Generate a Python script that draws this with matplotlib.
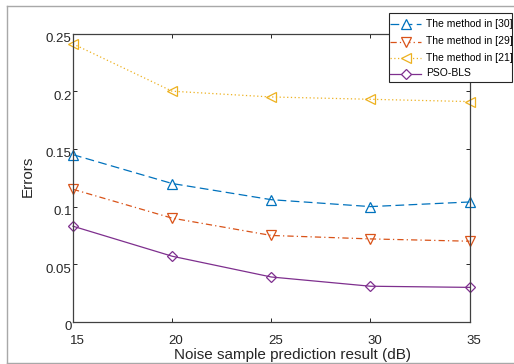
import matplotlib
matplotlib.use("Agg")
import matplotlib.pyplot as plt
from matplotlib.lines import Line2D
from matplotlib.patches import Rectangle
from matplotlib.transforms import ScaledTranslation

plt.rcParams['font.family'] = ['Liberation Sans', 'DejaVu Sans']

# Data
snr_db = [15, 20, 25, 30, 35]
method_30 = [0.145, 0.120, 0.106, 0.100, 0.104]
method_29 = [0.115, 0.090, 0.075, 0.072, 0.070]
method_21 = [0.241, 0.200, 0.195, 0.193, 0.191]
pso_bls = [0.083, 0.057, 0.039, 0.031, 0.030]
series_names = ["The method in [30]", "The method in [29]", "The method in [21]", "PSO-BLS"]
y_ticks = [0, 0.05, 0.1, 0.15, 0.2, 0.25]
y_tick_labels = ["0", "0.05", "0.1", "0.15", "0.2", "0.25"]

W, H = 514, 364
fig = plt.figure(figsize=(W / 100, H / 100), dpi=100)
fig.patch.set_facecolor("white")


def fx(x):
    return x / W


def fy(y):
    return 1 - y / H


left, right, top, bottom = 73, 469.5, 33.5, 322
ax = fig.add_axes([fx(left), fy(bottom), (right - left) / W, (bottom - top) / H])

styles = [
    dict(color="#0072BD", marker="^", dashes=(7, 3.5)),
    dict(color="#D95319", marker="v", dashes=(5, 2.5, 1, 2.5)),
    dict(color="#EDB120", marker="<", dashes=(1, 2)),
    dict(color="#7E2F8E", marker="D", dashes=()),
]
msizes = [6.5, 6.5, 6.5, 5]
series = [method_30, method_29, method_21, pso_bls]

for vals, st, ms in zip(series, styles, msizes):
    ln, = ax.plot(snr_db, vals, color=st["color"], marker=st["marker"], markersize=ms,
                  markerfacecolor="none", markeredgewidth=0.9, linewidth=0.9, clip_on=False)
    if st["dashes"]:
        ln.set_dashes(st["dashes"])

ax.set_xlim(15, 35)
ax.set_ylim(0, 0.25)
ax.set_xticks(snr_db)
ax.set_yticks(y_ticks)
ax.set_yticklabels(y_tick_labels)
ax.tick_params(direction="in", length=3, width=0.7, top=True, right=True,
               labelsize=9.5, colors="#262626")
ax.tick_params(axis="y", pad=1)
ax.tick_params(axis="x", pad=9)
for sp in ax.spines.values():
    sp.set_color("#404040")
    sp.set_linewidth(0.9)

# nudge tick labels
for lab in ax.get_yticklabels():
    lab.set_transform(lab.get_transform() + ScaledTranslation(0, -4 / 100, fig.dpi_scale_trans))
for lab in ax.get_xticklabels():
    lab.set_transform(lab.get_transform() + ScaledTranslation(4 / 100, 0, fig.dpi_scale_trans))

fig.text(fx(28), fy(176), "Errors", rotation=90, ha="center", va="center",
         fontsize=11, color="#262626")
fig.text(fx(292), fy(348), "Noise sample prediction result (dB)", ha="center", va="top",
         fontsize=11, color="#262626")

# legend
fig.add_artist(Rectangle((fx(389), fy(82)), (512 - 389) / W, (82 - 13) / H,
                         transform=fig.transFigure, facecolor="white",
                         edgecolor="#262626", linewidth=0.8, zorder=5))
rows = [24, 41.5, 58, 73.5]
for name, st, ms, ry in zip(series_names, styles, msizes, rows):
    ln = Line2D([fx(390), fx(421)], [fy(ry), fy(ry)], transform=fig.transFigure,
                color=st["color"], linewidth=0.9, zorder=6)
    if st["dashes"]:
        ln.set_dashes(st["dashes"])
    fig.add_artist(ln)
    fig.add_artist(Line2D([fx(405.5)], [fy(ry)], transform=fig.transFigure,
                          color=st["color"], marker=st["marker"], markersize=ms,
                          markerfacecolor="white", markeredgewidth=0.9,
                          linestyle="none", zorder=7))
    fig.text(fx(426), fy(ry), name, ha="left", va="center", fontsize=7.5,
             color="#000000", zorder=8)

# outer window frame
frame_kw = dict(transform=fig.transFigure, color="#a8a8a8", linewidth=1.0, zorder=10)
fig.add_artist(Line2D([fx(7), fx(7)], [fy(6), fy(364)], **frame_kw))
fig.add_artist(Line2D([fx(7), fx(514)], [fy(6), fy(6)], **frame_kw))
fig.add_artist(Line2D([fx(7), fx(514)], [fy(362.5), fy(362.5)], **frame_kw))
fig.add_artist(Rectangle((0, 0), 1, fy(362.5) - 0.001, transform=fig.transFigure,
                         facecolor="white", edgecolor="none", zorder=9))

fig.savefig("out.png", dpi=100)
